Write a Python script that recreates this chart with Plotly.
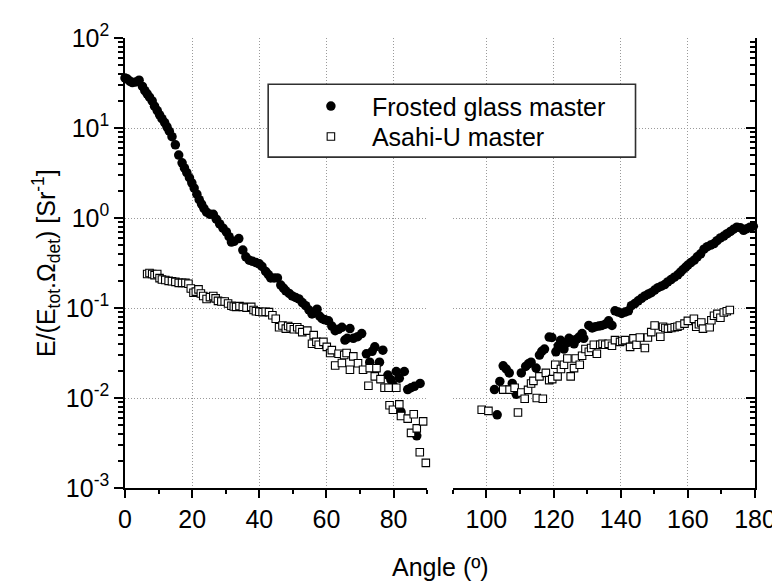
import plotly.graph_objects as go

# ---- data ----
frosted_left_angle = [0.0, 0.7, 1.5, 2.2, 3.2, 4.2, 5.2, 5.9, 6.6, 7.3, 8.1, 8.8, 9.6, 10.3, 11.0, 11.8,
    12.5, 13.2, 14.0, 15.0, 16.0, 17.0, 17.7, 18.4, 19.2, 19.9, 20.6, 21.4, 22.1, 22.8, 23.5, 24.3,
    25.3, 26.3, 27.2, 28.2, 29.2, 30.2, 31.0, 31.7, 32.5, 33.9, 35.1, 36.0, 37.0, 38.0, 39.0, 40.0,
    40.8, 41.9, 42.7, 43.4, 44.4, 45.4, 46.4, 47.2, 47.9, 48.9, 49.8, 50.8, 51.8, 52.8, 53.8, 54.8,
    55.7, 57.2, 58.0, 58.7, 59.6, 60.6, 61.6, 62.6, 63.6, 64.6, 65.5, 66.2, 67.0, 68.0, 69.3, 70.5,
    71.9, 72.9, 73.6, 74.4, 75.8, 76.8, 78.3, 79.2, 79.8, 80.8, 81.7, 82.2, 83.2, 84.2, 85.2, 86.2,
    86.9, 87.9]
frosted_left_value = [36, 35, 33, 32, 32.5, 34, 29, 26, 24, 22, 20, 17.5, 15.6, 14, 12.7, 11.5,
    10.3, 9.2, 8.0, 6.5, 5.0, 4.1, 3.6, 3.2, 2.8, 2.46, 2.15, 1.84, 1.6, 1.43, 1.28, 1.16,
    1.1, 1.1, 0.97, 0.86, 0.77, 0.70, 0.62, 0.54, 0.55, 0.59, 0.44, 0.37, 0.34, 0.33, 0.32, 0.31,
    0.29, 0.255, 0.235, 0.216, 0.216, 0.216, 0.18, 0.166, 0.155, 0.145, 0.136, 0.131, 0.126, 0.115,
    0.106, 0.095, 0.086, 0.097, 0.081, 0.076, 0.074, 0.072, 0.063, 0.056, 0.058, 0.061, 0.044, 0.046,
    0.059, 0.046, 0.048, 0.052, 0.031, 0.025, 0.033, 0.037, 0.025, 0.034, 0.018, 0.016, 0.014, 0.0197,
    0.0166, 0.0070, 0.0197, 0.0124, 0.013, 0.0135, 0.0038, 0.0145]

frosted_right_angle = [102.4, 103.2, 104.0, 105.0, 105.9, 106.8, 107.7, 108.9, 110.4, 111.7, 112.5,
    113.3, 114.8, 115.8, 116.5, 117.3, 118.7, 119.5, 120.7, 121.4, 122.1, 123.1, 123.9, 124.6, 125.4,
    126.1, 126.9, 127.6, 128.5, 129.0, 130.5, 131.5, 132.5, 133.5, 134.4, 135.4, 136.4, 137.4, 138.3,
    139.3, 140.3, 141.3, 142.3, 143.2, 144.2, 145.2, 146.2, 147.2, 148.1, 149.1, 150.1, 151.1, 152.1,
    153.1, 154.0, 155.0, 156.0, 157.0, 157.8, 158.5, 159.3, 160.0, 160.9, 161.9, 162.8, 163.8, 164.8,
    165.8, 166.8, 167.8, 168.7, 169.7, 170.7, 171.7, 172.7, 173.6, 174.6, 175.6, 176.6, 177.6, 178.5,
    179.5]
frosted_right_value = [0.0124, 0.0065, 0.0153, 0.0228, 0.021, 0.019, 0.0145, 0.011, 0.019, 0.0224,
    0.024, 0.025, 0.0215, 0.030, 0.033, 0.035, 0.0475, 0.047, 0.0326, 0.038, 0.0437, 0.035, 0.041,
    0.046, 0.044, 0.040, 0.045, 0.0475, 0.052, 0.046, 0.064, 0.060, 0.062, 0.063, 0.064, 0.066, 0.072,
    0.064, 0.093, 0.090, 0.087, 0.090, 0.093, 0.106, 0.112, 0.12, 0.128, 0.136, 0.142, 0.148, 0.158,
    0.168, 0.175, 0.182, 0.195, 0.207, 0.22, 0.234, 0.25, 0.266, 0.283, 0.30, 0.32, 0.34, 0.37, 0.40,
    0.45, 0.48, 0.50, 0.52, 0.56, 0.60, 0.63, 0.67, 0.71, 0.75, 0.79, 0.78, 0.73, 0.76, 0.79, 0.81]

asahi_left_angle = [6.6, 7.3, 8.1, 8.8, 9.6, 10.3, 11.0, 12.0, 13.0, 14.0, 15.0, 16.0, 17.0, 18.0,
    18.9, 19.6, 20.4, 21.1, 21.9, 22.6, 23.3, 24.3, 25.3, 26.3, 27.0, 27.7, 28.7, 29.7, 30.7, 31.7,
    32.4, 33.1, 34.1, 35.1, 36.2, 37.6, 38.3, 39.0, 40.0, 41.0, 41.9, 42.9, 43.9, 44.9, 45.9, 46.9,
    47.9, 48.6, 49.3, 50.3, 51.3, 52.0, 52.8, 54.3, 55.7, 56.2, 57.0, 57.7, 59.1, 60.1, 61.1, 61.6,
    62.6, 63.6, 64.6, 65.3, 66.0, 67.0, 68.0, 69.4, 70.9, 72.5, 72.9, 74.4, 74.9, 76.1, 77.3, 78.5,
    78.8, 79.8, 80.8, 81.7, 82.2, 84.2, 85.2, 86.0, 86.9, 87.8, 88.8, 89.6]
asahi_left_value = [0.239, 0.245, 0.239, 0.232, 0.239, 0.215, 0.207, 0.205, 0.20, 0.198, 0.195,
    0.19, 0.19, 0.19, 0.186, 0.165, 0.148, 0.152, 0.161, 0.145, 0.136, 0.126, 0.132, 0.136, 0.128,
    0.12, 0.118, 0.118, 0.112, 0.106, 0.104, 0.103, 0.105, 0.103, 0.101, 0.103, 0.095, 0.092, 0.091,
    0.090, 0.091, 0.090, 0.083, 0.076, 0.061, 0.064, 0.059, 0.063, 0.061, 0.058, 0.061, 0.058, 0.054,
    0.056, 0.040, 0.050, 0.042, 0.039, 0.042, 0.037, 0.0316, 0.034, 0.023, 0.031, 0.0245, 0.030,
    0.0316, 0.0206, 0.029, 0.0243, 0.0206, 0.0137, 0.0215, 0.0174, 0.0215, 0.0162, 0.013, 0.013,
    0.0083, 0.0074, 0.013, 0.0085, 0.0063, 0.0059, 0.0041, 0.0066, 0.0046, 0.0025, 0.0055, 0.0019]

asahi_right_angle = [98.6, 100.6, 105.0, 106.9, 108.4, 109.4, 110.4, 111.4, 112.4, 113.3, 114.0,
    115.0, 115.8, 116.8, 117.7, 118.7, 119.6, 120.5, 121.2, 122.2, 123.1, 124.1, 125.1, 126.1, 126.6,
    127.8, 128.5, 129.5, 130.5, 131.2, 132.0, 132.9, 133.9, 134.6, 135.4, 136.4, 137.4, 138.3, 139.8,
    140.5, 141.3, 142.8, 143.8, 144.7, 145.7, 147.2, 148.1, 149.1, 150.1, 151.8, 152.6, 153.3, 154.1,
    155.1, 156.1, 156.9, 157.6, 159.0, 160.0, 161.8, 162.5, 163.3, 164.0, 164.5, 166.5, 167.0, 167.8,
    168.8, 169.7, 170.7, 171.6, 172.5]
asahi_right_value = [0.0074, 0.0072, 0.0124, 0.0124, 0.013, 0.0069, 0.0115, 0.0098, 0.0123, 0.0145,
    0.0155, 0.010, 0.0174, 0.0098, 0.019, 0.0158, 0.0162, 0.0234, 0.0174, 0.0210, 0.0234, 0.0275,
    0.0174, 0.0215, 0.0275, 0.0234, 0.0295, 0.035, 0.0326, 0.036, 0.039, 0.031, 0.039, 0.040, 0.039,
    0.040, 0.038, 0.044, 0.042, 0.043, 0.044, 0.037, 0.046, 0.039, 0.047, 0.036, 0.047, 0.054, 0.064,
    0.048, 0.062, 0.060, 0.059, 0.060, 0.061, 0.062, 0.064, 0.067, 0.072, 0.076, 0.062, 0.066, 0.069,
    0.059, 0.061, 0.073, 0.082, 0.086, 0.078, 0.089, 0.092, 0.095]

series_names = ["Frosted glass master", "Asahi-U master"]
y_tick_vals = [1e-3, 1e-2, 1e-1, 1e0, 1e1, 1e2]
y_tick_text = ["10<sup>-3</sup>", "10<sup>-2</sup>", "10<sup>-1</sup>", "10<sup>0</sup>",
               "10<sup>1</sup>", "10<sup>2</sup>"]
x_title = "Angle (º)"
y_title = "E/(E<sub>tot</sub>.Ω<sub>det</sub>) [Sr<sup>-1</sup>]"

FONT = "Liberation Sans, Arial, sans-serif"
W, H = 780, 583
L, R, T, B = 117, 25, 23, 103
PW, PH = W - L - R, H - T - B
gap = 26
half = (PW - gap) / 2
dom_left = [0, half / PW]
dom_right = [(half + gap) / PW, 1]


def px_x(p):
    return (p - L) / PW


def px_y(p):
    return (H - B - p) / PH


circle = dict(symbol="circle", size=9.5, color="black", line=dict(width=0))
square = dict(symbol="square", size=7.5, color="white", line=dict(width=1.1, color="black"))

fig = go.Figure()
fig.add_trace(go.Scatter(x=frosted_left_angle, y=frosted_left_value, mode="markers",
                         marker=circle, name=series_names[0], xaxis="x", yaxis="y",
                         cliponaxis=False, legendgroup="f", legend="legend"))
fig.add_trace(go.Scatter(x=frosted_right_angle, y=frosted_right_value, mode="markers",
                         marker=circle, name=series_names[0], xaxis="x2", yaxis="y2",
                         cliponaxis=False, legendgroup="f", showlegend=False))
fig.add_trace(go.Scatter(x=asahi_left_angle, y=asahi_left_value, mode="markers",
                         marker=square, name=series_names[1], xaxis="x", yaxis="y",
                         cliponaxis=False, legendgroup="a", legend="legend2"))
fig.add_trace(go.Scatter(x=asahi_right_angle, y=asahi_right_value, mode="markers",
                         marker=square, name=series_names[1], xaxis="x2", yaxis="y2",
                         cliponaxis=False, legendgroup="a", showlegend=False))

grid = dict(showgrid=True, gridcolor="#9a9a9a", griddash="1px,2px", gridwidth=1)
axline = dict(showline=True, linecolor="black", linewidth=1.6, zeroline=False)
xtick = dict(tickfont=dict(size=25, family=FONT, color="black"), tickcolor="black",
             tickwidth=1.5)
legend_common = dict(xanchor="left", yanchor="top", bgcolor="rgba(0,0,0,0)", borderwidth=0,
                     itemwidth=72, font=dict(size=25, family=FONT, color="black"))

fig.update_layout(
    width=W, height=H, margin=dict(l=L, r=R, t=T, b=B),
    paper_bgcolor="white", plot_bgcolor="white",
    font=dict(family=FONT, color="black"),
    xaxis=dict(domain=dom_left, range=[0, 90], anchor="y", tickmode="linear", tick0=0, dtick=20,
               ticks="outside", ticklen=8, minor=dict(dtick=10, tick0=0, ticks="outside", ticklen=4,
               tickcolor="black", tickwidth=1.5, showgrid=False), **grid, **axline, **xtick),
    xaxis2=dict(domain=dom_right, range=[90, 180], anchor="y2", tickmode="linear", tick0=0, dtick=20,
                ticks="outside", ticklen=8, minor=dict(dtick=10, tick0=0, ticks="outside", ticklen=4,
                tickcolor="black", tickwidth=1.5, showgrid=False), **grid, **axline, **xtick),
    xaxis3=dict(overlaying="x", side="top", anchor="y", range=[0, 90], tickmode="linear", tick0=0,
                dtick=20, ticks="inside", ticklen=8, showticklabels=False, showgrid=False,
                minor=dict(dtick=10, tick0=0, ticks="inside", ticklen=4, tickcolor="black",
                tickwidth=1.5), **axline, tickcolor="black", tickwidth=1.5),
    xaxis4=dict(overlaying="x2", side="top", anchor="y2", range=[90, 180], tickmode="linear", tick0=0,
                dtick=20, ticks="inside", ticklen=8, showticklabels=False, showgrid=False,
                minor=dict(dtick=10, tick0=0, ticks="inside", ticklen=4, tickcolor="black",
                tickwidth=1.5), **axline, tickcolor="black", tickwidth=1.5),
    yaxis=dict(type="log", range=[-3, 2], anchor="x", tickmode="array", tickvals=y_tick_vals,
               ticktext=y_tick_text, ticks="outside", ticklen=9,
               minor=dict(dtick="D1", ticks="outside", ticklen=5, tickcolor="black", tickwidth=1.5,
                          showgrid=False),
               **grid, **axline, **xtick),
    yaxis2=dict(type="log", range=[-3, 2], anchor="x2", side="right", tickmode="array",
                tickvals=y_tick_vals, ticks="inside", ticklen=9, showticklabels=False,
                minor=dict(dtick="D1", ticks="inside", ticklen=5, tickcolor="black", tickwidth=1.5,
                           showgrid=False),
                **grid, **axline, tickcolor="black", tickwidth=1.5),
    showlegend=True,
    legend=dict(x=px_x(284), y=px_y(69), **legend_common),
    legend2=dict(x=px_x(284), y=px_y(100), **legend_common),
)

# legend frame
fig.add_shape(type="rect", xref="paper", yref="paper",
              x0=px_x(262), x1=px_x(634), y0=px_y(144), y1=px_y(70),
              line=dict(color="#303030", width=1.6), fillcolor="white", layer="above")

fig.add_annotation(text=x_title, xref="paper", yref="paper", x=0.5, y=px_y(560),
                   xanchor="center", yanchor="middle", showarrow=False,
                   font=dict(size=25, family=FONT, color="black"))
fig.add_annotation(text=y_title, xref="paper", yref="paper", x=px_x(37), y=0.5,
                   xanchor="center", yanchor="middle", showarrow=False, textangle=-90,
                   font=dict(size=25, family=FONT, color="black"))

fig.write_html("out.html")
